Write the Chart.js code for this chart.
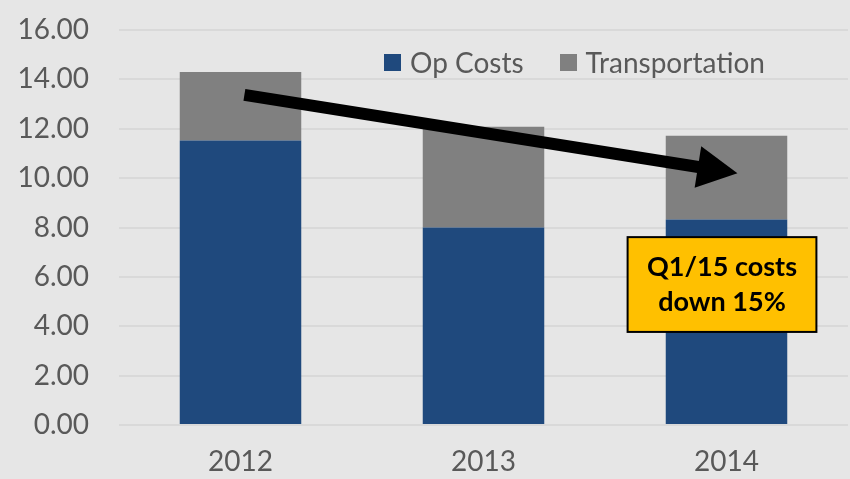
<!DOCTYPE html>
<html>
<head>
<meta charset="utf-8">
<script src="https://cdn.jsdelivr.net/npm/chart.js@4"></script>
<style>
  html, body { margin: 0; padding: 0; background: #e6e6e6; }
  #wrap { position: relative; width: 850px; height: 479px; }
  #legend {
    position: absolute; left: 384px; top: 45px;
    display: flex; align-items: center;
    font-family: Lato, "Open Sans", sans-serif; font-size: 28px; color: #595959;
  }
  #legend .item { display: flex; align-items: center; margin-right: 36px; }
  #legend .box { width: 17px; height: 17px; margin-right: 9px; }
</style>
</head>
<body>
<div id="wrap">
  <canvas id="costChart" width="850" height="479"></canvas>
  <div id="legend"></div>
</div>
<script>
const years = ['2012', '2013', '2014'];
const opCosts = [11.52, 8.0, 8.32];
const transportation = [2.78, 4.08, 3.40];
const yTicks = [0, 2, 4, 6, 8, 10, 12, 14, 16];

// annotation in data units (category index, value)
const arrowFrom = [0.016, 13.37];
const arrowTo = [2.045, 10.2];
const noteBox = { x1: 1.593, x2: 2.37, y1: 7.61, y2: 3.77 };
const noteLines = ['Q1/15 costs', 'down 15%'];

const FONT = 'Lato, "Open Sans", sans-serif';

const annotationPlugin = {
    id: 'arrowNote',
    afterDatasetsDraw(chart) {
        const ctx = chart.ctx;
        const x = chart.scales.x;
        const y = chart.scales.y;

        // arrow
        const sx = x.getPixelForValue(arrowFrom[0]);
        const sy = y.getPixelForValue(arrowFrom[1]);
        const tx = x.getPixelForValue(arrowTo[0]);
        const ty = y.getPixelForValue(arrowTo[1]);
        const ang = Math.atan2(ty - sy, tx - sx);
        const headLen = 40;
        const headHalf = 21;
        const bx = tx - headLen * Math.cos(ang);
        const by = ty - headLen * Math.sin(ang);

        ctx.save();
        ctx.strokeStyle = '#000';
        ctx.lineWidth = 12;
        ctx.lineCap = 'butt';
        ctx.beginPath();
        ctx.moveTo(sx, sy);
        ctx.lineTo(bx + 2 * Math.cos(ang), by + 2 * Math.sin(ang));
        ctx.stroke();

        ctx.fillStyle = '#000';
        ctx.beginPath();
        ctx.moveTo(tx, ty);
        ctx.lineTo(bx + headHalf * Math.sin(ang), by - headHalf * Math.cos(ang));
        ctx.lineTo(bx - headHalf * Math.sin(ang), by + headHalf * Math.cos(ang));
        ctx.closePath();
        ctx.fill();

        // note box
        const l = x.getPixelForValue(noteBox.x1);
        const r = x.getPixelForValue(noteBox.x2);
        const t = y.getPixelForValue(noteBox.y1);
        const b = y.getPixelForValue(noteBox.y2);
        ctx.fillStyle = '#ffc000';
        ctx.fillRect(l, t, r - l, b - t);
        ctx.strokeStyle = '#000';
        ctx.lineWidth = 2;
        ctx.strokeRect(l, t, r - l, b - t);

        ctx.fillStyle = '#000';
        ctx.font = 'bold 27px ' + FONT;
        ctx.textAlign = 'center';
        ctx.textBaseline = 'middle';
        const cx = (l + r) / 2;
        const cy = (t + b) / 2;
        ctx.fillText(noteLines[0], cx, cy - 17);
        ctx.fillText(noteLines[1], cx, cy + 18);
        ctx.restore();
    }
};

const chart = new Chart(document.getElementById('costChart'), {
    type: 'bar',
    data: {
        labels: years,
        datasets: [
            {
                label: 'Op Costs',
                data: opCosts,
                backgroundColor: '#1f497d'
            },
            {
                label: 'Transportation',
                data: transportation,
                backgroundColor: '#808080'
            }
        ]
    },
    options: {
        responsive: false,
        maintainAspectRatio: false,
        animation: false,
        layout: {
            padding: { top: 30, right: 2, bottom: 0, left: 0 }
        },
        datasets: {
            bar: {
                categoryPercentage: 1,
                barPercentage: 0.5
            }
        },
        plugins: {
            legend: { display: false },
            tooltip: { enabled: false }
        },
        scales: {
            x: {
                stacked: true,
                grid: { display: false },
                border: { display: false },
                afterFit: scale => {
                    scale.height = 54;
                },
                ticks: {
                    padding: 12,
                    color: '#595959',
                    font: { family: FONT, size: 28 }
                }
            },
            y: {
                stacked: true,
                min: 0,
                max: 16,
                afterBuildTicks: scale => {
                    scale.ticks = yTicks.map(v => ({ value: v }));
                },
                afterFit: scale => {
                    scale.width = 119;
                    scale.paddingTop = 0;
                    scale.paddingBottom = 0;
                },
                grid: {
                    color: '#d9d9d9',
                    lineWidth: 2,
                    drawTicks: false
                },
                border: { display: false },
                ticks: {
                    padding: 30,
                    color: '#595959',
                    font: { family: FONT, size: 28 },
                    callback: v => Number(v).toFixed(2)
                }
            }
        }
    },
    plugins: [annotationPlugin]
});

// html legend built from the datasets
const legendEl = document.getElementById('legend');
chart.data.datasets.forEach(ds => {
    const item = document.createElement('div');
    item.className = 'item';
    const box = document.createElement('span');
    box.className = 'box';
    box.style.background = ds.backgroundColor;
    const txt = document.createElement('span');
    txt.textContent = ds.label;
    item.appendChild(box);
    item.appendChild(txt);
    legendEl.appendChild(item);
});
</script>
</body>
</html>
